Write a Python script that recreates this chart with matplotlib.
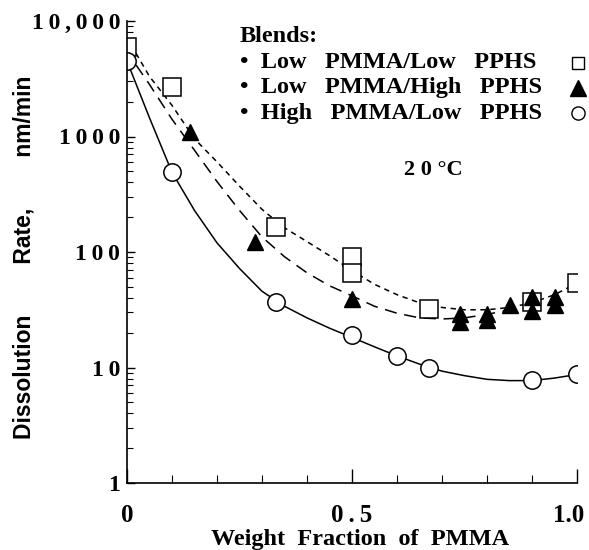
import numpy as np
import matplotlib
matplotlib.use("Agg")
import matplotlib.pyplot as plt
from matplotlib.lines import Line2D
from matplotlib.transforms import ScaledTranslation
from matplotlib.ticker import FixedLocator, LogLocator, NullFormatter

# ---- data ----
sq_x = [0.0, 0.1, 0.33, 0.5, 0.5, 0.67, 0.9, 1.0]
sq_y = [6000, 2700, 165, 90, 66, 32, 37, 54]

tri_x = [0.14, 0.285, 0.5, 0.74, 0.74, 0.8, 0.8, 0.85, 0.9, 0.9, 0.95, 0.95]
tri_y = [1100, 121, 39, 29, 25, 29, 26, 35, 41, 31, 41, 35]

cir_x = [0.0, 0.1, 0.33, 0.5, 0.6, 0.67, 0.9, 1.0]
cir_y = [4500, 490, 37, 19, 12.6, 10, 7.8, 8.8]

# fitted curves as drawn in the picture
solid_x = [0.0, 0.05, 0.1, 0.15, 0.2, 0.25, 0.3, 0.35, 0.4, 0.45, 0.5, 0.55,
           0.6, 0.65, 0.7, 0.75, 0.8, 0.85, 0.9, 0.95, 1.0]
solid_y = [4500, 1450, 490, 229, 120, 72, 45.7, 33.9, 26.9, 21.9, 18.2, 15.1,
           12.6, 10.7, 9.3, 8.5, 7.9, 7.7, 7.7, 8.1, 8.7]

ldash_x = [0.02, 0.05, 0.1, 0.15, 0.2, 0.25, 0.3, 0.35, 0.4, 0.45, 0.5, 0.55,
           0.6, 0.65, 0.7, 0.75, 0.8, 0.85]
ldash_y = [4170, 2820, 1410, 760, 407, 229, 135, 91, 66, 51, 41.7, 33.9,
           29.5, 26.9, 26.3, 26.9, 28.8, 31.6]

sdash_x = [0.02, 0.05, 0.1, 0.15, 0.2, 0.25, 0.3, 0.35, 0.4, 0.45, 0.5, 0.55,
           0.6, 0.65, 0.7, 0.75, 0.8, 0.85, 0.9, 0.95, 1.0]
sdash_y = [5250, 3310, 1860, 955, 603, 372, 234, 162, 123, 93, 69, 52.5,
           42.7, 36.3, 33.1, 31.6, 31.6, 33.1, 36.3, 42.7, 53.7]

legend_title = "Blends:"
legend_labels = ["\u2022  Low   PMMA/Low   PPHS",
                 "\u2022  Low   PMMA/High   PPHS",
                 "\u2022  High   PMMA/Low   PPHS"]

T = "\u2009"
y_ticks = [1, 10, 100, 1000, 10000]
y_tick_labels = ["1", T.join("10"), T.join("100"), T.join("1000"), T.join("10,000")]
x_ticks = [0, 0.5, 1.0]
x_tick_labels = ["0", T.join("0.5"), "1.0"]

# ---- figure ----
SERIF = ["Liberation Serif", "DejaVu Serif"]
SANS = ["Liberation Sans", "DejaVu Sans"]

W, H = 589, 550
fig = plt.figure(figsize=(W / 100, H / 100), dpi=100)
ax = fig.add_axes([127 / W, 1 - 483 / H, 450 / W, 462 / H])

ax.plot(solid_x, solid_y, color="black", lw=1.1, ls="-")
ax.plot(ldash_x, ldash_y, color="black", lw=1.1, ls=(0, (8, 5)))
ax.plot(sdash_x, sdash_y, color="black", lw=1.1, ls=(0, (3.5, 3)))

ax.plot(sq_x, sq_y, ls="none", marker="s", ms=12.5, mfc="white", mec="black", mew=1.1)
ax.plot(tri_x, tri_y, ls="none", marker="^", ms=11.5, mfc="black", mec="black")
ax.plot(cir_x, cir_y, ls="none", marker="o", ms=12.5, mfc="white", mec="black", mew=1.1)

ax.set_yscale("log")
ax.set_ylim(1, 10000)
ax.set_xlim(0, 1.0)

for s in ["top", "right"]:
    ax.spines[s].set_visible(False)
for s in ["left", "bottom"]:
    ax.spines[s].set_linewidth(1.2)

ax.yaxis.set_major_locator(FixedLocator(y_ticks))
ax.set_yticklabels(y_tick_labels, fontfamily=SERIF, fontweight="bold", fontsize=17)
ax.yaxis.set_minor_locator(LogLocator(base=10, subs=np.arange(2, 10)))
ax.yaxis.set_minor_formatter(NullFormatter())

ax.xaxis.set_major_locator(FixedLocator(x_ticks))
ax.set_xticklabels(x_tick_labels, fontfamily=SERIF, fontweight="bold", fontsize=18)
ax.xaxis.set_minor_locator(FixedLocator([0.1, 0.2, 0.3, 0.4, 0.6, 0.7, 0.8, 0.9]))

ax.tick_params(axis="y", which="major", direction="in", length=6, width=1.0, pad=5)
ax.tick_params(axis="y", which="minor", direction="in", length=4, width=0.8)
ax.tick_params(axis="x", which="major", direction="in", length=10, width=1.0, pad=15)
ax.tick_params(axis="x", which="minor", direction="in", length=6, width=0.8)

# keep the "1.0" label inside the figure, as in the reference
lbl = ax.get_xticklabels()[-1]
lbl.set_transform(lbl.get_transform() + ScaledTranslation(-0.08, 0, fig.dpi_scale_trans))

ax.set_xlabel("Weight  Fraction  of  PMMA", fontfamily=SERIF, fontweight="bold",
              fontsize=17.5, va="center")
ax.xaxis.set_label_coords((360 - 127) / 450, -(539 - 483) / 462)
ax.set_ylabel("Dissolution        Rate,        nm/min", fontfamily=SANS,
              fontweight="bold", fontsize=16.5, va="center")
ax.yaxis.set_label_coords((24 - 127) / 450, (483 - 257) / 462)

ax.text((433 - 127) / 450, (483 - 170) / 462, "2 0 \u00b0C", transform=ax.transAxes,
        fontfamily=SERIF, fontweight="bold", fontsize=16, ha="center", va="center")

# legend block (text on the left, key marker on the right)
fig.text(240 / W, 1 - 37 / H, legend_title, fontfamily=SERIF, fontweight="bold",
         fontsize=17.5, ha="left", va="center")
keys = [dict(marker="s", ms=9, mfc="white", mec="black", mew=1.0),
        dict(marker="^", ms=11, mfc="black", mec="black"),
        dict(marker="o", ms=9.5, mfc="white", mec="black", mew=1.0)]
for i, (lab, key) in enumerate(zip(legend_labels, keys)):
    yy = 1 - (63 + 25 * i) / H
    fig.text(240 / W, yy, lab, fontfamily=SERIF, fontweight="bold", fontsize=17.5,
             ha="left", va="center")
    fig.add_artist(Line2D([578 / W], [yy], transform=fig.transFigure, ls="none", **key))

fig.savefig("out.png", dpi=100)
